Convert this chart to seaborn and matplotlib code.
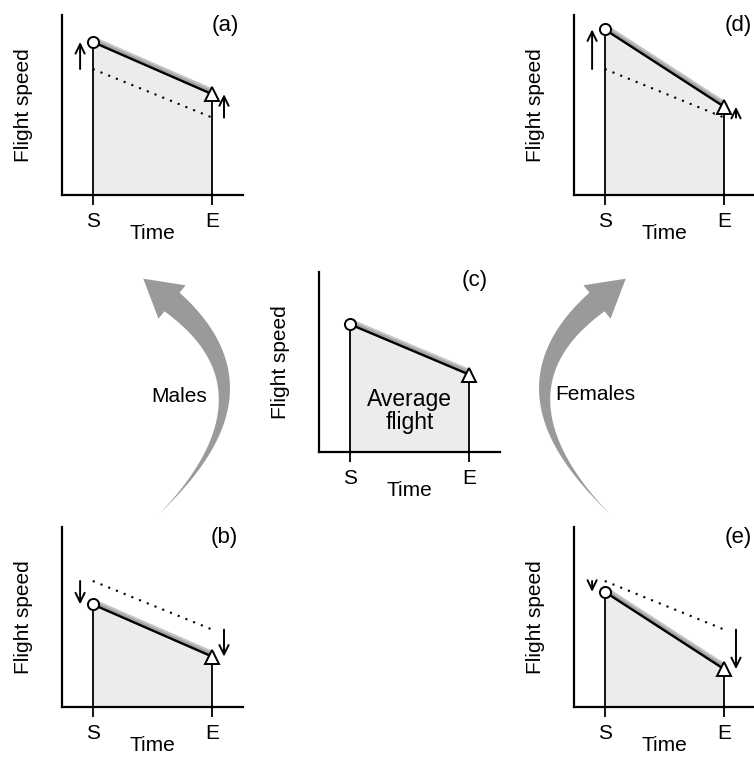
# sketch of flight speed profiles: average flight vs males/females shifts

import numpy as np
import pandas as pd
import matplotlib.pyplot as plt
import seaborn as sns
from matplotlib.patches import Polygon

# data (speed in axis units 0-1)
panel_tags = ['(a)', '(b)', '(c)', '(d)', '(e)']
start_speed = [0.85, 0.57, 0.71, 0.92, 0.64]
end_speed = [0.56, 0.28, 0.43, 0.49, 0.21]
average_speed = [0.70, 0.43]
time_points = [0.17, 0.83]
time_labels = ['S', 'E']
group_labels = ['Males', 'Females']

sns.set_style('white')
plt.rcParams['font.family'] = ['Liberation Sans', 'DejaVu Sans']
plt.rcParams['text.color'] = 'black'
plt.rcParams['axes.labelcolor'] = 'black'
plt.rcParams['xtick.color'] = 'black'

W, H = 754, 758
fig = plt.figure(figsize=(W / 100, H / 100), dpi=100)

# panel boxes in pixels: left, top
boxes = {'(a)': (62, 15), '(b)': (62, 527), '(c)': (319, 272),
         '(d)': (574, 15), '(e)': (574, 527)}
tag_xy = {'(a)': (0.90, 0.94), '(b)': (0.895, 0.94), '(c)': (0.86, 0.95),
          '(d)': (0.905, 0.94), '(e)': (0.905, 0.94)}
arrow_x = [0.10, 0.895]


def rect(left, top, w=181, h=180):
    return [left / W, 1 - (top + h) / H, w / W, h / H]


for tag, s, e in zip(panel_tags, start_speed, end_speed):
    ax = fig.add_axes(rect(*boxes[tag]))
    df = pd.DataFrame({'time': time_points, 'speed': [s, e]})

    # area under the flight
    ax.fill_between(df['time'], 0, df['speed'], color='#ececec', lw=0, zorder=1)
    # noisy trace (drawn as a soft grey band) and fitted line
    sns.lineplot(x=df['time'], y=df['speed'] + 0.014, ax=ax, color='#c4c4c4',
                 lw=4.5, zorder=2)
    sns.lineplot(x=df['time'], y=df['speed'] + 0.01, ax=ax, color='#a3a3a3',
                 lw=2.5, zorder=2)
    sns.lineplot(data=df, x='time', y='speed', ax=ax, color='black', lw=1.7, zorder=3)
    ax.vlines(df['time'], 0, df['speed'], color='black', lw=1.3, zorder=3)
    ax.plot(time_points[0], s, 'o', mfc='white', mec='black', ms=8, mew=1.4,
            zorder=5, clip_on=False)
    ax.plot(time_points[1], e, '^', mfc='white', mec='black', ms=10, mew=1.4,
            zorder=5, clip_on=False)

    if tag != '(c)':
        # average flight for reference + shift arrows
        sns.lineplot(x=time_points, y=average_speed, ax=ax, color='black',
                     lw=1.5, linestyle=(0, (1, 3)), zorder=2)
        for xa, old, new in zip(arrow_x, average_speed, [s, e]):
            ax.annotate('', xy=(xa, new), xytext=(xa, old),
                        arrowprops=dict(arrowstyle='->,head_length=0.45,head_width=0.22',
                                        color='black', lw=1.4, shrinkA=0, shrinkB=0,
                                        mutation_scale=15),
                        annotation_clip=False)
    else:
        ax.text(0.5, 0.23, 'Average\nflight', ha='center', va='center',
                fontsize=16.5, linespacing=1.0, zorder=6)

    ax.set_xlim(0, 1)
    ax.set_ylim(0, 1)
    ax.set_xticks(time_points)
    ax.set_xticklabels(time_labels)
    ax.set_yticks([])
    ax.tick_params(axis='x', bottom=True, direction='out', length=7, width=1.3,
                   pad=5.5, labelsize=15)
    for side in ['top', 'right']:
        ax.spines[side].set_visible(False)
    for side in ['left', 'bottom']:
        ax.spines[side].set_color('black')
        ax.spines[side].set_linewidth(1.6)
    ax.set_xlabel('Time', fontsize=15)
    ax.set_ylabel('Flight speed', fontsize=15)
    ax.xaxis.set_label_coords(0.5, -0.16)
    ax.yaxis.set_label_coords(-0.16, 0.5)
    ax.set_facecolor('none')
    ax.text(*tag_xy[tag], tag, transform=ax.transAxes, ha='center', va='center',
            fontsize=16)


# big curved grey arrows (pixel coordinates, y down)
def curved_arrow(p0, p1, p2, max_w=24, head_len=37, head_w=43, color='#9a9a9a'):
    p0, p1, p2 = map(np.array, (p0, p1, p2))
    t = np.linspace(0, 1, 80)[:, None]
    pts = (1 - t) ** 2 * p0 + 2 * (1 - t) * t * p1 + t ** 2 * p2
    d = 2 * (1 - t) * (p1 - p0) + 2 * t * (p2 - p1)
    d = d / np.linalg.norm(d, axis=1, keepdims=True)
    n = np.column_stack([-d[:, 1], d[:, 0]])
    w = max_w * t ** 1.2 / 2
    left = pts + n * w
    right = pts - n * w
    tip = p2 + d[-1] * head_len
    c1 = p2 + n[-1] * head_w / 2
    c2 = p2 - n[-1] * head_w / 2
    poly = np.vstack([left, c1, tip, c2, right[::-1]])
    poly = np.column_stack([poly[:, 0] / W, 1 - poly[:, 1] / H])
    fig.add_artist(Polygon(poly, closed=True, transform=fig.transFigure,
                           facecolor=color, edgecolor='none'))


curved_arrow((158, 515), (283, 392), (172, 302))
curved_arrow((769 - 158, 515), (769 - 283, 392), (769 - 172, 302))

fig.text(179 / W, 1 - 397 / H, group_labels[0], ha='center', va='center', fontsize=15)
fig.text(595 / W, 1 - 395 / H, group_labels[1], ha='center', va='center', fontsize=15)

plt.savefig('out.png', dpi=100)
